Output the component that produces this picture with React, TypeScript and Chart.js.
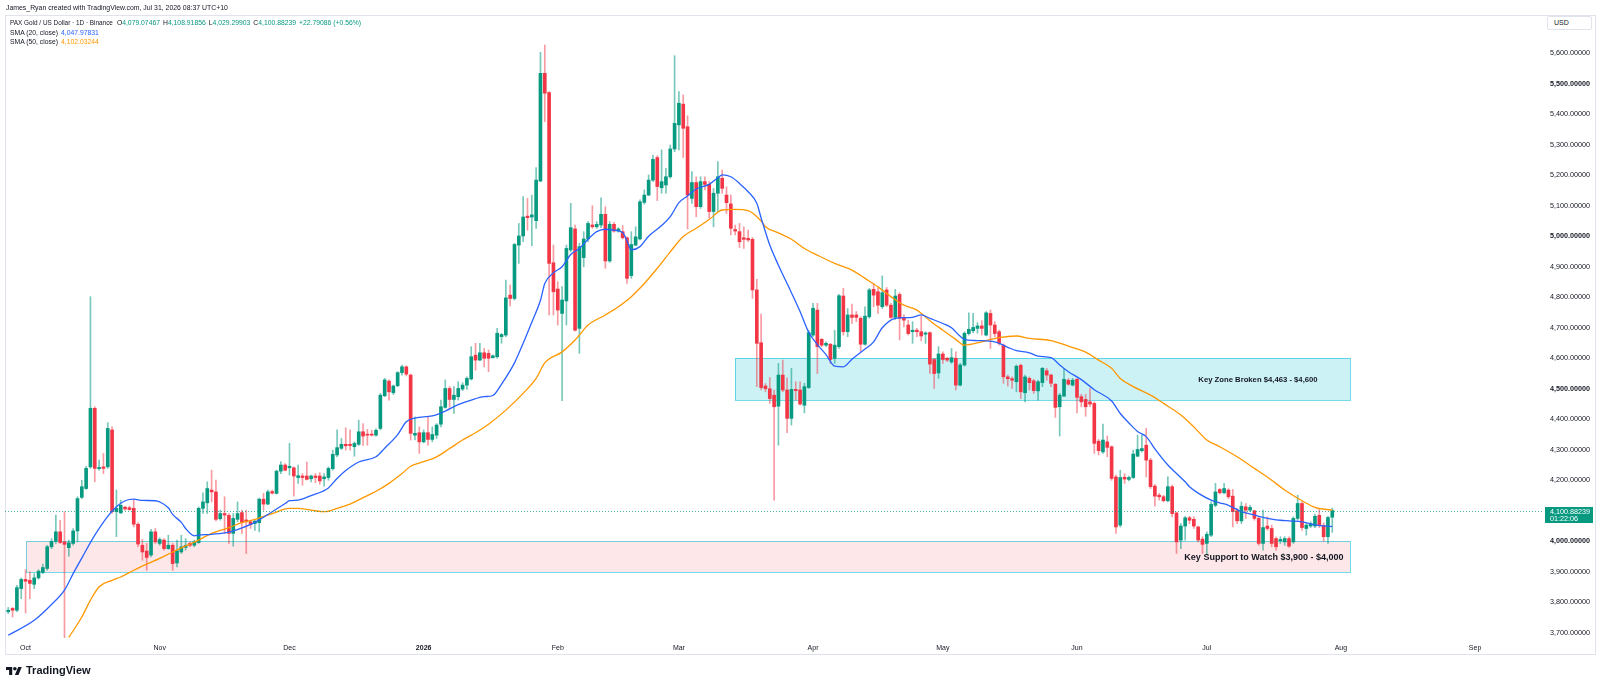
import { useEffect, useRef } from "react";
import { Chart, registerables } from "chart.js";

Chart.register(...registerables);

// ---------- DATA ----------
// x value = days since 1 Oct 2025; first daily candle is 27 Sep 2025
const firstCandleDay = -4;

const opens = [
  3769, 3780, 3774, 3845, 3875, 3872, 3859, 3880, 3898, 3911,
  3982, 4000, 4031, 3998, 3979, 3993, 4034, 4144, 4173, 4244,
  4436, 4238, 4244, 4244, 4365, 4097, 4093, 4112, 4110, 4108,
  4056, 3987, 3968, 3955, 4031, 3993, 4004, 3976, 3987, 3929,
  3965, 3980, 3993, 3987, 3996, 4108, 4126, 4168, 4162, 4074,
  4091, 4085, 4026, 4072, 4094, 4070, 4064, 4058, 4061, 4138,
  4122, 4163, 4157, 4230, 4250, 4241, 4241, 4209, 4214, 4214,
  4205, 4214, 4214, 4205, 4209, 4238, 4283, 4305, 4318, 4318,
  4310, 4318, 4359, 4351, 4351, 4348, 4370, 4477, 4525, 4487,
  4510, 4553, 4572, 4545, 4348, 4356, 4326, 4356, 4334, 4348,
  4384, 4439, 4501, 4465, 4474, 4499, 4512, 4532, 4610, 4594,
  4618, 4616, 4602, 4605, 4671, 4676, 4807, 4796, 4971, 5001,
  5066, 5063, 5051, 5181, 5534, 5471, 4913, 4827, 4747, 4788,
  4955, 5024, 4698, 4930, 4991, 5037, 5031, 5037, 5072, 4919,
  5039, 5017, 5015, 4995, 4871, 4971, 4991, 5111, 5135, 5184,
  5258, 5159, 5168, 5195, 5286, 5365, 5433, 5359, 5124, 5176,
  5097, 5179, 5170, 5081, 5141, 5190, 5135, 5106, 5022, 5015,
  4995, 4993, 4990, 4824, 4651, 4509, 4500, 4479, 4443, 4545,
  4496, 4403, 4498, 4496, 4446, 4504, 4676, 4758, 4662, 4643,
  4646, 4600, 4638, 4804, 4687, 4742, 4742, 4731, 4646, 4736,
  4826, 4818, 4769, 4824, 4774, 4734, 4809, 4731, 4709, 4687,
  4692, 4687, 4679, 4684, 4596, 4552, 4614, 4600, 4588, 4600,
  4512, 4578, 4681, 4690, 4698, 4706, 4676, 4747, 4709, 4687,
  4643, 4539, 4533, 4523, 4577, 4487, 4534, 4526, 4493, 4520,
  4559, 4545, 4515, 4441, 4476, 4528, 4512, 4531, 4474, 4465,
  4457, 4452, 4328, 4293, 4326, 4310, 4211, 4053, 4210, 4203,
  4209, 4279, 4297, 4315, 4266, 4181, 4151, 4146, 4133, 4179,
  4093, 4004, 4050, 4077, 4072, 4047, 4007, 3993, 4020, 4118,
  4170, 4159, 4168, 4148, 4100, 4067, 4113, 4102, 4100, 4075,
  3993, 4050, 4042, 4009, 4002, 3998, 4009, 3998, 4075, 4124,
  4042, 4050, 4050, 4085, 4052, 4015, 4079.07467,
];

const highs = [
  3783, 3783, 3856, 3880, 3907, 3900, 3894, 3907, 3925, 3987,
  4009, 4086, 4069, 4097, 4004, 4042, 4146, 4200, 4246, 4802,
  4441, 4266, 4288, 4389, 4375, 4168, 4135, 4115, 4115, 4135,
  4061, 4006, 3993, 4039, 4042, 4012, 4009, 4020, 3993, 4004,
  4020, 4009, 3998, 4004, 4113, 4159, 4195, 4233, 4201, 4102,
  4146, 4091, 4091, 4129, 4102, 4102, 4069, 4069, 4142, 4157,
  4168, 4168, 4233, 4261, 4255, 4321, 4244, 4250, 4222, 4260,
  4217, 4222, 4225, 4222, 4244, 4299, 4365, 4337, 4372, 4365,
  4326, 4397, 4386, 4367, 4364, 4369, 4485, 4534, 4529, 4512,
  4556, 4578, 4575, 4548, 4408, 4375, 4365, 4408, 4375, 4386,
  4463, 4529, 4507, 4507, 4523, 4520, 4539, 4638, 4649, 4649,
  4632, 4627, 4611, 4698, 4681, 4856, 4840, 4977, 5042, 5130,
  5124, 5135, 5225, 5603, 5627, 5474, 4971, 4851, 4835, 4971,
  5108, 5037, 4977, 5015, 5048, 5100, 5048, 5126, 5097, 5048,
  5046, 5028, 5035, 4998, 5015, 5031, 5119, 5152, 5201, 5266,
  5264, 5283, 5223, 5299, 5592, 5474, 5463, 5395, 5212, 5195,
  5195, 5195, 5179, 5157, 5245, 5217, 5162, 5135, 5037, 5042,
  5031, 5020, 4996, 4859, 4745, 4517, 4537, 4496, 4583, 4594,
  4536, 4567, 4523, 4523, 4518, 4692, 4780, 4780, 4665, 4654,
  4649, 4692, 4810, 4829, 4763, 4778, 4753, 4736, 4769, 4829,
  4845, 4829, 4870, 4832, 4780, 4826, 4815, 4742, 4725, 4720,
  4698, 4738, 4687, 4687, 4599, 4638, 4621, 4603, 4632, 4621,
  4583, 4687, 4749, 4747, 4717, 4723, 4753, 4758, 4720, 4692,
  4647, 4545, 4539, 4578, 4581, 4545, 4539, 4531, 4528, 4570,
  4567, 4548, 4517, 4485, 4567, 4533, 4534, 4534, 4482, 4482,
  4501, 4457, 4334, 4384, 4345, 4313, 4217, 4233, 4222, 4214,
  4299, 4348, 4348, 4370, 4272, 4187, 4157, 4151, 4211, 4184,
  4096, 4058, 4082, 4082, 4080, 4050, 4015, 4031, 4129, 4190,
  4173, 4190, 4173, 4170, 4108, 4129, 4124, 4118, 4102, 4080,
  4102, 4080, 4053, 4015, 4015, 4015, 4015, 4080, 4151, 4129,
  4058, 4064, 4089, 4108, 4060, 4082, 4108.91856,
];

const lows = [
  3763, 3752, 3769, 3812, 3765, 3812, 3845, 3876, 3894, 3905,
  3976, 3993, 3993, 3660, 3951, 3987, 3998, 4140, 4170, 4239,
  4195, 4233, 4222, 4239, 4091, 4015, 4091, 4102, 4102, 4047,
  3982, 3938, 3905, 3949, 3993, 3987, 3971, 3973, 3905, 3916,
  3960, 3971, 3982, 3982, 3993, 4091, 4091, 4129, 4067, 4069,
  4026, 3993, 3984, 4064, 4026, 3960, 4042, 4036, 4031, 4102,
  4119, 4155, 4155, 4222, 4231, 4217, 4148, 4190, 4184, 4201,
  4195, 4192, 4187, 4181, 4200, 4233, 4277, 4301, 4299, 4299,
  4279, 4314, 4314, 4315, 4345, 4345, 4365, 4474, 4463, 4481,
  4507, 4545, 4542, 4332, 4332, 4288, 4323, 4315, 4326, 4337,
  4375, 4436, 4439, 4419, 4463, 4494, 4498, 4529, 4561, 4592,
  4572, 4556, 4600, 4600, 4649, 4671, 4772, 4791, 4911, 4982,
  5020, 4969, 5026, 5179, 5376, 4742, 4742, 4709, 4461, 4709,
  4949, 4689, 4616, 4900, 4982, 5026, 5026, 5028, 4895, 4914,
  5013, 5013, 4991, 4845, 4862, 4969, 4988, 5105, 5133, 5179,
  5117, 5141, 5141, 5190, 5277, 5283, 5258, 5024, 5108, 5064,
  5091, 5152, 5059, 5031, 5081, 5141, 5075, 5004, 5004, 4963,
  4960, 4982, 4796, 4507, 4496, 4490, 4452, 4135, 4315, 4490,
  4356, 4381, 4463, 4446, 4421, 4501, 4671, 4550, 4638, 4638,
  4583, 4583, 4632, 4676, 4671, 4714, 4720, 4621, 4643, 4731,
  4769, 4747, 4763, 4769, 4731, 4727, 4660, 4703, 4676, 4649,
  4671, 4657, 4649, 4550, 4501, 4534, 4583, 4589, 4583, 4496,
  4509, 4574, 4676, 4684, 4682, 4676, 4673, 4632, 4670, 4643,
  4518, 4509, 4501, 4490, 4468, 4457, 4496, 4485, 4463, 4507,
  4528, 4507, 4406, 4345, 4474, 4512, 4509, 4421, 4441, 4410,
  4441, 4288, 4283, 4288, 4277, 4200, 4026, 4047, 4190, 4198,
  4206, 4277, 4293, 4211, 4173, 4115, 4135, 4129, 4129, 4080,
  3960, 3976, 4004, 4058, 4042, 3998, 3960, 3958, 4015, 4113,
  4155, 4155, 4140, 4047, 4058, 4058, 4075, 4097, 4069, 3987,
  3971, 4036, 3982, 3971, 3993, 3987, 3980, 3993, 4069, 4036,
  4020, 4045, 4045, 4045, 4000, 3993, 4029.29903,
];

const closes = [
  3774, 3774, 3848, 3875, 3869, 3862, 3880, 3902, 3914, 3982,
  4000, 4031, 3996, 3990, 3995, 4034, 4140, 4179, 4239, 4436,
  4239, 4242, 4239, 4370, 4097, 4108, 4118, 4106, 4104, 4056,
  3991, 3965, 3947, 4031, 3998, 4006, 3976, 3987, 3927, 3969,
  3982, 3987, 3987, 3998, 4108, 4129, 4173, 4162, 4072, 4091,
  4086, 4026, 4075, 4091, 4062, 4064, 4056, 4066, 4138, 4122,
  4162, 4158, 4230, 4250, 4233, 4246, 4214, 4215, 4209, 4203,
  4214, 4209, 4198, 4211, 4239, 4285, 4307, 4318, 4313, 4314,
  4321, 4359, 4345, 4348, 4348, 4364, 4479, 4529, 4490, 4509,
  4553, 4572, 4548, 4354, 4354, 4326, 4356, 4334, 4350, 4381,
  4441, 4501, 4465, 4479, 4501, 4512, 4534, 4605, 4594, 4618,
  4600, 4600, 4608, 4682, 4678, 4798, 4796, 4973, 5001, 5063,
  5061, 5070, 5184, 5534, 5469, 4911, 4818, 4758, 4791, 4960,
  5028, 4692, 4966, 4991, 5042, 5031, 5039, 5072, 4919, 5039,
  5017, 5024, 4995, 4862, 4973, 4998, 5113, 5135, 5184, 5252,
  5163, 5179, 5195, 5286, 5370, 5436, 5354, 5135, 5176, 5097,
  5179, 5170, 5081, 5141, 5195, 5157, 5110, 5026, 5017, 4982,
  4990, 4988, 4824, 4649, 4504, 4500, 4468, 4441, 4545, 4496,
  4403, 4498, 4494, 4450, 4507, 4684, 4764, 4638, 4643, 4649,
  4596, 4643, 4805, 4687, 4742, 4734, 4734, 4646, 4738, 4824,
  4807, 4774, 4815, 4774, 4734, 4804, 4731, 4725, 4681, 4692,
  4687, 4673, 4683, 4581, 4550, 4614, 4596, 4594, 4602, 4512,
  4578, 4682, 4695, 4701, 4706, 4698, 4749, 4709, 4681, 4649,
  4539, 4533, 4528, 4574, 4490, 4539, 4520, 4494, 4523, 4567,
  4545, 4518, 4439, 4479, 4531, 4515, 4528, 4472, 4457, 4441,
  4450, 4321, 4297, 4332, 4308, 4206, 4047, 4209, 4204, 4209,
  4286, 4301, 4304, 4266, 4179, 4148, 4146, 4133, 4179, 4091,
  3998, 4050, 4077, 4069, 4050, 4004, 3990, 4023, 4121, 4162,
  4159, 4173, 4146, 4097, 4067, 4115, 4102, 4111, 4075, 3993,
  4045, 4042, 3993, 3982, 4006, 4009, 3984, 4075, 4124, 4045,
  4053, 4058, 4082, 4052, 4015, 4078, 4100.88239,
];

const sma20Days = [
  -4, 2, 6, 9, 11, 13, 16, 19, 21, 23, 25, 27, 30, 31, 33, 34, 36, 37, 39, 40,
  43, 47, 50, 53, 57, 60, 61, 63, 66, 70, 72, 74, 77, 81, 83, 86, 88, 90, 94, 97,
  100, 103, 106, 108, 110, 113, 115, 117, 119, 120, 122, 124, 126, 128, 130, 132, 134, 136, 138, 139,
  140, 142, 144, 147, 149, 151, 153, 155, 158, 160, 161, 163, 165, 167, 169, 170, 172, 174, 177, 179,
  181, 183, 185, 187, 189, 191, 194, 196, 198, 201, 203, 205, 207, 209, 212, 214, 216, 217, 220, 224,
  227, 229, 232, 234, 237, 239, 241, 244, 247, 251, 253, 255, 257, 259, 261, 264, 266, 268, 269, 271,
  274, 276, 278, 281, 283, 285, 288, 290, 292, 295, 298, 302,
];
const sma20Values = [
  3692, 3741, 3793, 3840, 3894, 3945, 4020, 4082, 4113, 4133, 4138, 4134, 4133, 4129, 4110, 4088, 4062, 4042, 4018, 4020,
  4023, 4030, 4044, 4062, 4097, 4124, 4133, 4135, 4150, 4175, 4206, 4232, 4260, 4277, 4305, 4350, 4392, 4404, 4411, 4427,
  4448, 4463, 4474, 4478, 4515, 4585, 4649, 4718, 4790, 4845, 4880, 4900, 4940, 4960, 4990, 5015, 5023, 5020, 5012, 4985,
  4955, 4966, 5000, 5035, 5064, 5110, 5132, 5155, 5170, 5192, 5201, 5195, 5173, 5146, 5108, 5060, 4971, 4905, 4815, 4753,
  4685, 4645, 4612, 4574, 4572, 4597, 4630, 4654, 4700, 4731, 4733, 4734, 4742, 4731, 4714, 4700, 4672, 4662, 4658, 4654,
  4636, 4625, 4618, 4607, 4602, 4578, 4556, 4530, 4497, 4460, 4419, 4388, 4360, 4343, 4303, 4250, 4222, 4195, 4179, 4158,
  4135, 4126, 4118, 4097, 4090, 4082, 4073, 4069, 4067, 4064, 4054, 4047.97831,
];

const sma50Days = [
  10, 13, 15, 17, 20, 22, 25, 28, 31, 34, 37, 40, 43, 47, 50, 53, 57, 61, 63, 66,
  69, 72, 75, 78, 81, 84, 87, 89, 92, 95, 98, 101, 104, 107, 111, 115, 118, 120, 124, 127,
  128, 130, 134, 137, 140, 143, 146, 149, 152, 155, 158, 161, 164, 167, 170, 171, 174, 177, 180, 183,
  187, 191, 194, 197, 200, 203, 206, 209, 212, 215, 217, 221, 225, 229, 232, 237, 241, 245, 248, 251,
  253, 256, 260, 263, 267, 270, 273, 276, 280, 284, 288, 291, 295, 298, 302,
];
const sma50Values = [
  3685, 3752, 3807, 3851, 3872, 3883, 3905, 3925, 3944, 3965, 3985, 4004, 4026, 4045, 4061, 4072, 4091, 4108, 4108, 4102,
  4097, 4108, 4122, 4143, 4164, 4190, 4222, 4246, 4261, 4277, 4304, 4332, 4356, 4384, 4430, 4485, 4534, 4585, 4621, 4660,
  4676, 4709, 4742, 4769, 4802, 4845, 4895, 4949, 4999, 5026, 5055, 5086, 5088, 5084, 5050, 5031, 5011, 4990, 4960, 4938,
  4911, 4889, 4862, 4834, 4802, 4774, 4758, 4723, 4692, 4662, 4643, 4654, 4668, 4673, 4665, 4658, 4640, 4620, 4594, 4567,
  4534, 4507, 4479, 4452, 4414, 4375, 4332, 4310, 4277, 4239, 4200, 4168, 4133, 4111, 4102.03244,
];

const monthTickDays = [0, 31, 61, 92, 123, 151, 182, 212, 243, 273, 304, 335];
const monthTickLabels = ["Oct", "Nov", "Dec", "2026", "Feb", "Mar", "Apr", "May", "Jun", "Jul", "Aug", "Sep"];
const boldMonthLabels = ["2026"];

const priceTicks = [3700, 3800, 3900, 4000, 4100, 4200, 4300, 4400, 4500, 4600, 4700, 4800, 4900, 5000, 5100, 5200, 5300, 5400, 5500, 5600];
const boldPriceTicks = [4000, 4500, 5000, 5500];

const zoneLabels = ["Key Zone Broken $4,463 - $4,600", "Key Support to Watch $3,900 - $4,000"];
const zoneStartDays = [164, 0];
const zoneEndDays = [306, 306];
const zoneLows = [4463, 3900];
const zoneHighs = [4600, 4000];

const lastChange = 22.79086;
const lastChangePct = 0.56;
const countdown = "01:22:06";

// ---------- STYLE ----------
const FONT = "'Liberation Sans', Arial, sans-serif";
const TEXT = "#131722";
const GREEN = "#089981";
const RED = "#F23645";
const GREEN_WICK = "rgba(8,153,129,0.55)";
const RED_WICK = "rgba(242,54,69,0.5)";
const BLUE = "#2962FF";
const ORANGE = "#FF9800";
const ZONE_BORDER = "rgba(0,188,212,0.55)";
const zoneFills = ["rgba(0,188,212,0.2)", "rgba(242,54,69,0.12)"];
const zoneLabelFonts = [`bold 7.7px ${FONT}`, `bold 9px ${FONT}`];
const zoneLabelInsets = [32, 6];
const X_MIN = -4.75;
const X_MAX = 350.7;
const Y_MIN = 3683;
const Y_MAX = 5722;

const fmt5 = (v: number) =>
  v.toLocaleString("en-US", { minimumFractionDigits: 5, maximumFractionDigits: 5 });

const n = Math.min(opens.length, highs.length, lows.length, closes.length);
const idx = Array.from({ length: n }, (_, i) => i);
const isUp = (i: number) => closes[i] >= opens[i];

const overlayPlugin = {
  id: "tvOverlay",
  beforeDatasetsDraw(chart: any) {
    const { ctx, scales } = chart;
    const x = scales.x;
    const y = scales.y;
    ctx.save();
    zoneStartDays.forEach((d0: number, i: number) => {
      const x0 = Math.round(x.getPixelForValue(d0));
      const x1 = Math.round(x.getPixelForValue(zoneEndDays[i]));
      const y0 = Math.round(y.getPixelForValue(zoneHighs[i]));
      const y1 = Math.round(y.getPixelForValue(zoneLows[i]));
      ctx.fillStyle = zoneFills[i];
      ctx.fillRect(x0, y0, x1 - x0, y1 - y0);
      ctx.strokeStyle = ZONE_BORDER;
      ctx.lineWidth = 1;
      ctx.strokeRect(x0 + 0.5, y0 + 0.5, x1 - x0, y1 - y0);
    });
    ctx.restore();
  },
  afterDatasetsDraw(chart: any) {
    const { ctx, chartArea, scales } = chart;
    const x = scales.x;
    const y = scales.y;
    ctx.save();
    const py = Math.round(y.getPixelForValue(closes[n - 1])) + 0.5;
    ctx.strokeStyle = "rgba(8,153,129,0.75)";
    ctx.lineWidth = 1;
    ctx.setLineDash([1, 2]);
    ctx.beginPath();
    ctx.moveTo(chartArea.left, py);
    ctx.lineTo(chartArea.right, py);
    ctx.stroke();
    ctx.setLineDash([]);
    zoneLabels.forEach((label: string, i: number) => {
      const x1 = x.getPixelForValue(zoneEndDays[i]);
      const y0 = y.getPixelForValue(zoneHighs[i]);
      const y1 = y.getPixelForValue(zoneLows[i]);
      ctx.font = zoneLabelFonts[i];
      ctx.fillStyle = TEXT;
      ctx.textAlign = "right";
      ctx.textBaseline = "middle";
      ctx.fillText(label, x1 - zoneLabelInsets[i], (y0 + y1) / 2 + 0.5);
    });
    ctx.restore();
  },
  afterDraw(chart: any) {
    const { ctx, chartArea, scales } = chart;
    const y = scales.y;
    const py = y.getPixelForValue(closes[n - 1]);
    ctx.save();
    ctx.fillStyle = GREEN;
    ctx.fillRect(chartArea.right + 2, Math.round(py - 4), 48, 16);
    ctx.fillStyle = "#ffffff";
    ctx.font = `7.2px ${FONT}`;
    ctx.textAlign = "left";
    ctx.textBaseline = "middle";
    ctx.fillText(fmt5(closes[n - 1]), chartArea.right + 7, py + 1.3);
    ctx.fillText(countdown, chartArea.right + 7, py + 8.6);
    ctx.restore();
  },
};

export default function App() {
  const canvasRef = useRef<HTMLCanvasElement | null>(null);

  useEffect(() => {
    if (!canvasRef.current) return;
    Chart.defaults.font.family = FONT;
    const chart = new Chart(canvasRef.current, {
      type: "bar",
      data: {
        datasets: [
          {
            type: "line",
            label: "SMA 20",
            data: sma20Days.map((d, i) => ({ x: d, y: sma20Values[i] })),
            borderColor: BLUE,
            borderWidth: 1.3,
            pointRadius: 0,
            cubicInterpolationMode: "monotone",
            order: 0,
          },
          {
            type: "line",
            label: "SMA 50",
            data: sma50Days.map((d, i) => ({ x: d, y: sma50Values[i] })),
            borderColor: ORANGE,
            borderWidth: 1.3,
            pointRadius: 0,
            cubicInterpolationMode: "monotone",
            order: 1,
          },
          {
            type: "bar",
            label: "bodies",
            data: idx.map((i) => ({ x: firstCandleDay + i, y: [opens[i], closes[i]] })),
            backgroundColor: idx.map((i) => (isUp(i) ? GREEN : RED)),
            barThickness: 3,
            minBarLength: 1,
            grouped: false,
            borderWidth: 0,
            order: 2,
          } as any,
          {
            type: "bar",
            label: "wicks",
            data: idx.map((i) => ({ x: firstCandleDay + i, y: [lows[i], highs[i]] })),
            backgroundColor: idx.map((i) => (isUp(i) ? GREEN_WICK : RED_WICK)),
            barThickness: 1,
            grouped: false,
            borderWidth: 0,
            order: 3,
          } as any,
        ],
      },
      options: {
        animation: false,
        responsive: true,
        maintainAspectRatio: false,
        events: [],
        layout: { padding: { left: 5, right: 5, top: 16, bottom: 32 } },
        plugins: { legend: { display: false }, tooltip: { enabled: false } },
        scales: {
          x: {
            type: "linear",
            min: X_MIN,
            max: X_MAX,
            offset: false,
            grid: { display: false, drawTicks: false },
            border: { display: false },
            afterBuildTicks: (s: any) => {
              s.ticks = monthTickDays.map((v) => ({ value: v }));
            },
            afterFit: (s: any) => {
              s.height = 16;
            },
            ticks: {
              autoSkip: false,
              maxRotation: 0,
              padding: 6,
              color: TEXT,
              font: (c: any) => {
                const i = monthTickDays.indexOf(c.tick ? c.tick.value : -999);
                const lbl = i >= 0 ? monthTickLabels[i] : "";
                return { family: FONT, size: 7, weight: boldMonthLabels.includes(lbl) ? "bold" : "normal" };
              },
              callback: (v: any) => {
                const i = monthTickDays.indexOf(Number(v));
                return i >= 0 ? monthTickLabels[i] : "";
              },
            },
          },
          y: {
            type: "linear",
            position: "right",
            min: Y_MIN,
            max: Y_MAX,
            grid: { display: false, drawTicks: false },
            border: { display: false },
            afterBuildTicks: (s: any) => {
              s.ticks = priceTicks.map((v) => ({ value: v }));
            },
            afterFit: (s: any) => {
              s.width = 52;
            },
            ticks: {
              padding: 7,
              color: TEXT,
              font: (c: any) => ({
                family: FONT,
                size: 7.2,
                weight: c.tick && boldPriceTicks.includes(c.tick.value) ? "bold" : "normal",
              }),
              callback: (v: any) => fmt5(Number(v)),
            },
          },
        } as any,
      },
      plugins: [overlayPlugin as any],
    } as any);
    return () => chart.destroy();
  }, []);

  const last = n - 1;
  const valStyle = { color: GREEN };
  const gapO = { marginLeft: 4 };
  const gap = { marginLeft: 3 };

  return (
    <div
      style={{
        position: "fixed",
        left: 0,
        top: 0,
        width: 1600,
        height: 686,
        background: "#ffffff",
        fontFamily: FONT,
        color: TEXT,
        overflow: "hidden",
      }}
    >
      <div
        style={{
          position: "absolute",
          left: 5,
          top: 15,
          width: 1591,
          height: 640,
          border: "1px solid #e0e3eb",
          boxSizing: "border-box",
        }}
      />
      <div style={{ position: "absolute", left: 0, top: 0, width: 1600, height: 686 }}>
        <canvas ref={canvasRef} />
      </div>
      <div style={{ position: "absolute", left: 6, top: 3, fontSize: 6.9, lineHeight: "9px", whiteSpace: "pre" }}>
        James_Ryan created with TradingView.com, Jul 31, 2026 08:37 UTC+10
      </div>
      <div style={{ position: "absolute", left: 10, top: 18, fontSize: 6.8, lineHeight: "9.5px", whiteSpace: "pre" }}>
        <div>
          <span style={{ fontSize: 6.4 }}>PAX Gold / US Dollar · 1D · Binance</span>
          <span style={gapO}>O</span>
          <span style={valStyle}>{fmt5(opens[last])}</span>
          <span style={gap}>H</span>
          <span style={valStyle}>{fmt5(highs[last])}</span>
          <span style={gap}>L</span>
          <span style={valStyle}>{fmt5(lows[last])}</span>
          <span style={gap}>C</span>
          <span style={valStyle}>{fmt5(closes[last])}</span>
          <span style={{ ...valStyle, ...gap }}>
            {`+${fmt5(lastChange)} (+${lastChangePct.toFixed(2)}%)`}
          </span>
        </div>
        <div>
          <span>SMA (20, close)</span>
          <span style={{ color: BLUE, marginLeft: 3 }}>{fmt5(sma20Values[sma20Values.length - 1])}</span>
        </div>
        <div>
          <span>SMA (50, close)</span>
          <span style={{ color: ORANGE, marginLeft: 3 }}>{fmt5(sma50Values[sma50Values.length - 1])}</span>
        </div>
      </div>
      <div
        style={{
          position: "absolute",
          left: 1547,
          top: 16,
          width: 45,
          height: 14,
          border: "1px solid #e0e3eb",
          borderRadius: 2,
          boxSizing: "border-box",
          fontSize: 7,
          lineHeight: "12px",
          paddingLeft: 6,
          background: "#fff",
        }}
      >
        USD
      </div>
      <div style={{ position: "absolute", left: 6, top: 663, display: "flex", alignItems: "center", height: 14 }}>
        <svg width="16" height="10" viewBox="0 0 36 22">
          <path d="M14 22H7V11H0V4h14v18z" fill={TEXT} />
          <circle cx="20" cy="8" r="4" fill={TEXT} />
          <path d="M28 22h-8l7.5-18h8L28 22z" fill={TEXT} />
        </svg>
        <span style={{ marginLeft: 4, fontSize: 11, fontWeight: 700 }}>TradingView</span>
      </div>
    </div>
  );
}
